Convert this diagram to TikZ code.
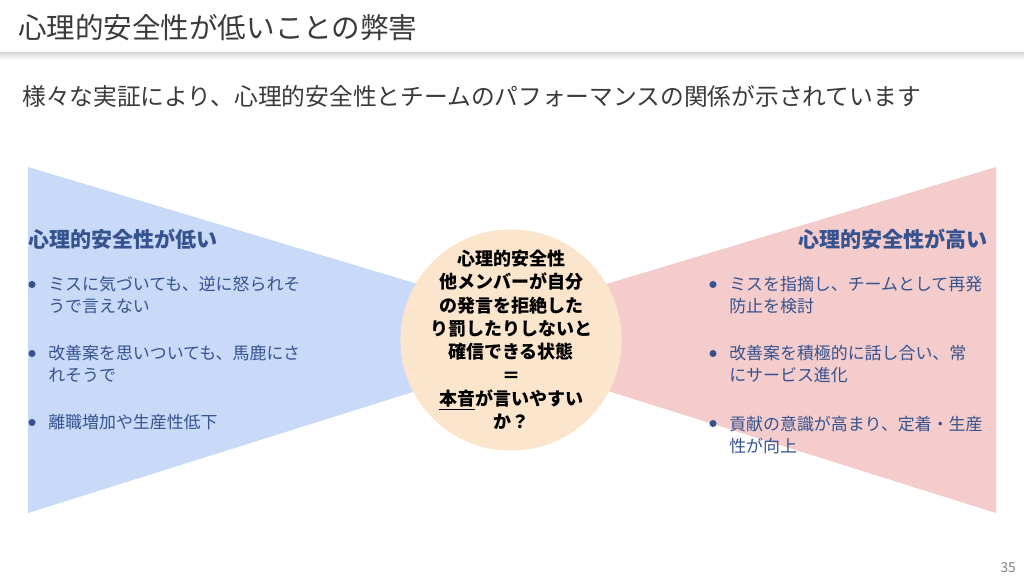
\documentclass[tikz,border=0pt]{standalone}
\usepackage{fontspec}
\setmainfont{Noto Sans CJK JP}
\usetikzlibrary{shapes}
\definecolor{lowBlue}{HTML}{C9DAF8}
\definecolor{highRed}{HTML}{F4CCCC}
\definecolor{coreOrange}{HTML}{FCE5CD}
\definecolor{textBlue}{HTML}{36538F}
\definecolor{titleGray}{HTML}{3A3A3A}

\begin{document}
\begin{tikzpicture}
[x=0.75pt,y=-0.75pt,%
  headDecorate/.style={font=\fontsize{15.8}{19}\selectfont\bfseries,text=textBlue,inner sep=0pt},%
  itemDecorate/.style={font=\fontsize{12.7}{16.5}\selectfont,text=textBlue,align=left,inner sep=0pt,anchor=base west},%
  dotDecorate/.style={shape=circle,fill=textBlue,inner sep=0pt,minimum size=5.3pt},%
  coreDecorate/.style={shape=circle,fill=coreOrange,minimum size=166pt,inner sep=0pt}]
%% slide frame
\useasboundingbox (0,0) rectangle (1024,576);
\fill[white] (0,0) rectangle (1024,576);
\shade[top color=black!16,bottom color=white] (0,52) rectangle (1024,60);
\fill[white] (0,0) rectangle (1024,52);
\node[anchor=base west,inner sep=0pt,text=titleGray,font=\fontsize{21.4}{24}\selectfont] (title) at (18,38) {心理的安全性が低いことの弊害};
\node[anchor=base west,inner sep=0pt,text=titleGray,font=\fontsize{17.8}{20}\selectfont] (lead) at (22,105) {様々な実証により、心理的安全性とチームのパフォーマンスの関係が示されています};
%% the two fans
\fill[lowBlue] (28,167) -- (28,513) -- (591,336) -- cycle;
\fill[highRed] (996,167) -- (996,513) -- (433,336) -- cycle;
%% centre circle and its text
\node[coreDecorate] (core) at (511,340) {};
\node[align=center,inner sep=0pt,font=\fontsize{13.5}{17.5}\selectfont\bfseries] (coreText) at (core.center) {心理的安全性\\他メンバーが自分\\の発言を拒絶した\\り罰したりしないと\\確信できる状態\\＝\\\underline{本音}が言いやすい\\か？};
%% headings
\node[headDecorate,anchor=base west] (lowHead) at (28,247) {心理的安全性が低い};
\node[headDecorate,anchor=base east] (highHead) at (988,247) {心理的安全性が高い};
%% bullet items: name / x / last baseline / dot y / text
\foreach \itemname/\x/\y/\doty/\itemtext in {
  lowA/48/312.5/284.5/{ミスに気づいても、逆に怒られそ\\うで言えない},
  lowB/48/381.5/353.5/{改善案を思いついても、馬鹿にさ\\れそうで},
  lowC/48/428.5/422.5/{離職増加や生産性低下},
  highA/729/312.5/284.5/{ミスを指摘し、チームとして再発\\防止を検討},
  highB/729/381.5/353.5/{改善案を積極的に話し合い、常\\にサービス進化},
  highC/729/452/423.5/{貢献の意識が高まり、定着・生産\\性が向上}}
{
  \node[dotDecorate] (\itemname-dot) at (\x-16,\doty) {};
  \node[itemDecorate] (\itemname) at (\x,\y) {\itemtext};
}
%% page number
\node[anchor=base east,inner sep=0pt,text=gray,font=\fontsize{10.3}{12}\selectfont] (pageNo) at (1016,572) {35};
\end{tikzpicture}
\end{document}
